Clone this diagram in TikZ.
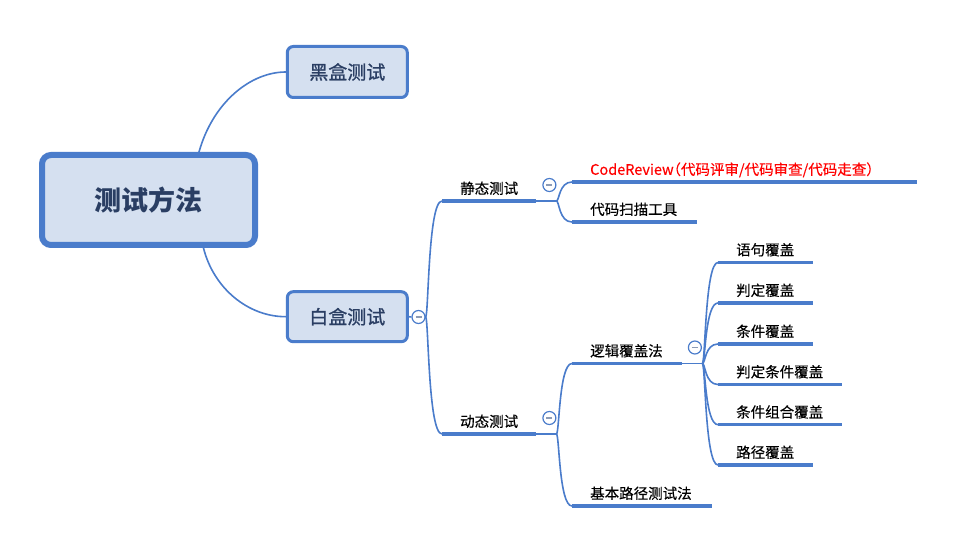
\documentclass[tikz,border=0pt]{standalone}
\usepackage{fontspec}
\setmainfont{Noto Sans CJK SC}
\newfontfamily\crfont[RawFeature=+halt,FakeBold=0.3]{Noto Sans CJK SC}
\newfontfamily\leaffont[FakeBold=0.3]{Noto Sans CJK SC}
\newfontfamily\boxfont[FakeBold=0.9]{Noto Sans CJK SC}
\usetikzlibrary{backgrounds,calc}
\definecolor{mblue}{HTML}{4A7CCB}
\definecolor{mfill}{HTML}{D5E0F0}
\definecolor{mtext}{HTML}{2A3E63}
\definecolor{mgray}{HTML}{8C9BB5}
\begin{document}
\begin{tikzpicture}[x=1pt,y=-1pt,
  rootbox/.style={draw=mblue, fill=mfill, line width=6pt, rounded corners=9pt, minimum width=213pt, minimum height=90pt, inner sep=0pt, text=mtext, font=\fontsize{27}{30}\selectfont\bfseries},
  mainbox/.style={draw=mblue, fill=mfill, line width=3pt, rounded corners=6pt, minimum width=120pt, minimum height=51pt, inner sep=0pt, text=mtext, font=\boxfont\fontsize{19}{22}\selectfont},
  conn/.style={draw=mblue, line width=1.6pt},
  uline/.style={draw=mblue, line width=3.4pt},
  topic/.style={anchor=south west, inner xsep=0pt, inner ysep=4pt, text height=11pt, text depth=3pt, align=left, font=\leaffont\fontsize{14.5}{16}\selectfont, text=black},
  fold/.style={circle, draw=mblue, fill=white, line width=1.2pt, minimum size=13pt, inner sep=0pt,
    path picture={\draw[mgray, line width=1.3pt] ([xshift=-3pt]path picture bounding box.center) -- ([xshift=3pt]path picture bounding box.center);}}
]
\useasboundingbox (0,0) rectangle (964,548);

% main boxes
\node[rootbox] (root) at (148.5,200) {测试方法};
\node[mainbox] (hei) at (347.3,72) {黑盒测试};
\node[mainbox, minimum height=50pt] (bai) at (347.3,316.7) {白盒测试};

% topics
\node[topic, text width=94pt] (st) at (442,201) {\hspace*{18pt}静态测试};
\node[topic, text width=94pt] (dt) at (442,434) {\hspace*{18pt}动态测试};
\node[topic, text width=345pt, text=red] (cr) at (572,182) {\hspace*{18pt}CodeReview{\crfont （代码评审/代码审查/代码走查）}};
\node[topic, text width=125pt] (sm) at (572,222) {\hspace*{18pt}代码扫描工具};
\node[topic, text width=110pt] (lj) at (572,363.5) {\hspace*{18pt}逻辑覆盖法};
\node[topic, text width=140pt] (jb) at (572,506) {\hspace*{18pt}基本路径测试法};
\node[topic, text width=95pt] (l1) at (718,262.5) {\hspace*{18pt}语句覆盖};
\node[topic, text width=95pt] (l2) at (718,303) {\hspace*{18pt}判定覆盖};
\node[topic, text width=95pt] (l3) at (718,344) {\hspace*{18pt}条件覆盖};
\node[topic, text width=124pt] (l4) at (718,384.5) {\hspace*{18pt}判定条件覆盖};
\node[topic, text width=124pt] (l5) at (718,424.7) {\hspace*{18pt}条件组合覆盖};
\node[topic, text width=95pt] (l6) at (718,465) {\hspace*{18pt}路径覆盖};

% fold circles
\node[fold] (f1) at (418.5,317) {};
\node[fold] (f2) at ($(st.south east)+(13,-16)$) {};
\node[fold] (f3) at ($(dt.south east)+(13,-16)$) {};
\node[fold] (f4) at ($(lj.south east)+(12.5,-16)$) {};

\begin{scope}[on background layer]
  \fill[white] (0,0) rectangle (964,548);
  % root connectors
  \draw[conn] ([xshift=50.5pt]root.north) .. controls +(14,-50) and +(-35,0) .. (hei.west);
  \draw[conn] ([xshift=55pt]root.south) .. controls +(10,40) and +(-38,0) .. (bai.west);
  \draw[conn] (bai.east) -- (f1.west);
  \draw[conn] (f1.east) .. controls +(3,0) and +(-14,0) .. (st.south west);
  \draw[conn] (f1.east) .. controls +(3,0) and +(-14,0) .. (dt.south west);
  % static
  \draw[conn] (st.south east) -- ++(20,0) coordinate (stb);
  \draw[conn] (stb) .. controls +(3,0) and +(-13,0) .. (cr.south west);
  \draw[conn] (stb) .. controls +(3,0) and +(-13,0) .. (sm.south west);
  % dynamic
  \draw[conn] (dt.south east) -- ++(20,0) coordinate (dtb);
  \draw[conn] (dtb) .. controls +(3,0) and +(-13,0) .. (lj.south west);
  \draw[conn] (dtb) .. controls +(3,0) and +(-13,0) .. (jb.south west);
  % logic
  \draw[conn] (lj.south east) -- ++(20,0) coordinate (ljb);
  \foreach \n in {l1,l2,l3,l4,l5,l6}
    \draw[conn] (ljb) .. controls +(3,0) and +(-13,0) .. (\n.south west);
\end{scope}

% underlines
\foreach \n in {st,dt,cr,sm,lj,jb,l1,l2,l3,l4,l5,l6}
  \draw[uline] (\n.south west) -- (\n.south east);
\end{tikzpicture}
\end{document}
